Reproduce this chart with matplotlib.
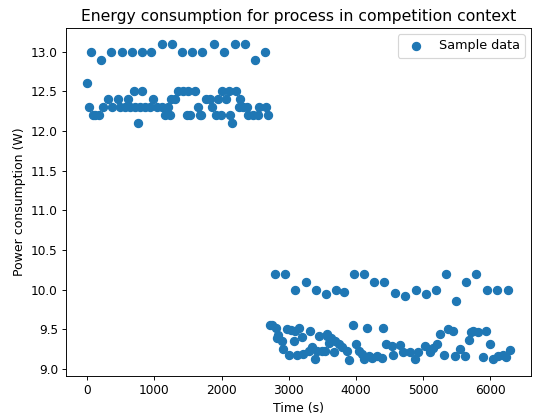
import matplotlib
matplotlib.use("Agg")
import matplotlib.pyplot as plt

# Phase 1 (solo run) - upper tier samples
t_high_a = [56, 203, 350, 513, 661, 809, 956, 1118, 1266, 1414, 1562, 1709,
            1887, 2035, 2198, 2345, 2493, 2641]
p_high_a = [13.0, 12.9, 13.0, 13.0, 13.0, 13.0, 13.0, 13.1, 13.1, 13.0, 13.0, 13.0,
            13.1, 13.0, 13.1, 13.1, 12.9, 13.0]

# Phase 1 - lower tier samples
t_low_a = [0, 25, 84, 124, 183, 237, 306, 369, 454, 493, 567, 606, 642, 701,
           716, 754, 789, 823, 863, 937, 986, 1035, 1108, 1159, 1208, 1233,
           1250, 1306, 1355, 1429, 1503, 1492, 1528, 1611, 1650, 1675, 1699,
           1773, 1824, 1857, 1921, 1946, 1985, 2005, 2068, 2104, 2128, 2153,
           2217, 2266, 2281, 2315, 2379, 2400, 2463, 2537, 2562, 2660, 2695]
p_low_a = [12.6, 12.3, 12.2, 12.2, 12.2, 12.3, 12.4, 12.3, 12.4, 12.3, 12.3, 12.4,
           12.3, 12.5, 12.3, 12.1, 12.3, 12.5, 12.3, 12.3, 12.4, 12.3, 12.3, 12.2,
           12.3, 12.2, 12.4, 12.4, 12.5, 12.5, 12.5, 12.2, 12.2, 12.5, 12.3, 12.2,
           12.2, 12.4, 12.4, 12.3, 12.2, 12.4, 12.2, 12.5, 12.4, 12.5, 12.2, 12.1,
           12.5, 12.3, 12.4, 12.3, 12.3, 12.2, 12.2, 12.2, 12.3, 12.3, 12.2]

# Phase 2 (competition) - upper tier samples
t_high_b = [2795, 2947, 3095, 3253, 3401, 3548, 3697, 3827, 3972, 4125, 4272,
            4421, 4588, 4735, 4892, 5040, 5188, 5335, 5483, 5640, 5788, 5950,
            6102, 6261]
p_high_b = [10.2, 10.2, 10.0, 10.1, 9.99, 9.94, 10.0, 9.97, 10.2, 10.2, 10.1,
            10.1, 9.96, 9.92, 10.0, 9.95, 10.0, 10.2, 9.86, 10.1, 10.2, 9.99,
            9.99, 10.0]

# Phase 2 - lower tier samples
t_low_b = [2714, 2749, 2807, 2832, 2843, 2905, 2917, 2980, 3005, 3029, 3078,
           3087, 3127, 3153, 3191, 3216, 3301, 3316, 3350, 3390, 3423, 3457,
           3498, 3538, 3562, 3572, 3605, 3635, 3679, 3694, 3744, 3794, 3867,
           3892, 3951, 4000, 4040, 4089, 4114, 4163, 4188, 4246, 4310, 4385,
           4399, 4443, 4532, 4557, 4655, 4705, 4803, 4876, 4926, 5025, 5098,
           5148, 5208, 5257, 5305, 5370, 5443, 5467, 5542, 5616, 5689, 5714,
           5748, 5814, 5887, 5936, 5995, 6034, 6109, 6183, 6232, 6290]
p_low_b = [9.55, 9.55, 9.51, 9.39, 9.43, 9.35, 9.25, 9.50, 9.18, 9.49, 9.35,
           9.48, 9.17, 9.52, 9.40, 9.19, 9.23, 9.48, 9.28, 9.13, 9.23, 9.41,
           9.23, 9.23, 9.42, 9.44, 9.33, 9.39, 9.21, 9.35, 9.31, 9.28, 9.23,
           9.11, 9.56, 9.31, 9.23, 9.19, 9.13, 9.52, 9.16, 9.14, 9.16, 9.14,
           9.52, 9.31, 9.29, 9.17, 9.30, 9.21, 9.21, 9.13, 9.21, 9.29, 9.21,
           9.26, 9.31, 9.44, 9.18, 9.50, 9.48, 9.16, 9.25, 9.16, 9.36, 9.46,
           9.48, 9.46, 9.15, 9.48, 9.31, 9.13, 9.16, 9.17, 9.15, 9.24]

time_s = t_high_a + t_low_a + t_low_b + t_high_b
power_w = p_high_a + p_low_a + p_low_b + p_high_b

dpi = 83.33
fig = plt.figure(figsize=(533 / dpi, 419 / dpi), dpi=dpi)
ax = fig.add_axes([66 / 533, 43 / 419, 465 / 533, 348 / 419])

ax.scatter(time_s, power_w, s=50, label="Sample data")
ax.set_title("Energy consumption for process in competition context", fontsize=13.5)
ax.set_xlabel("Time (s)", fontsize=10.8)
ax.set_ylabel("Power consumption (W)", fontsize=10.8)
ax.tick_params(labelsize=10.5)
ax.legend(loc="upper right", fontsize=11)

fig.savefig("out.png", dpi=dpi)
